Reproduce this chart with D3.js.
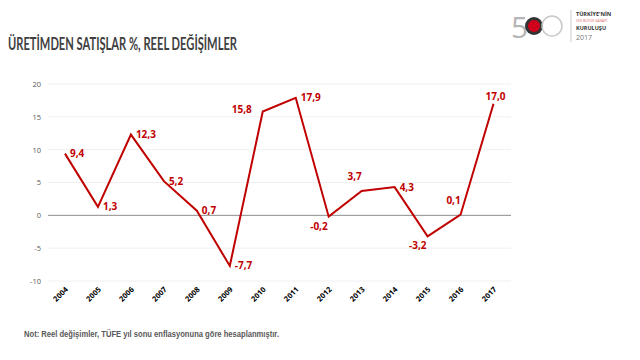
<!DOCTYPE html>
<html><head><meta charset="utf-8">
<script src="https://cdn.jsdelivr.net/npm/d3@7"></script>
<style>body{margin:0;background:#fff}svg{display:block}</style>
</head><body>
<script>
const years = ["2004","2005","2006","2007","2008","2009","2010","2011","2012","2013","2014","2015","2016","2017"];
const values = [9.4,1.3,12.3,5.2,0.7,-7.7,15.8,17.9,-0.2,3.7,4.3,-3.2,0.1,17.0];
const yTicks = [-10,-5,0,5,10,15,20];
const title = "ÜRETİMDEN SATIŞLAR %, REEL DEĞİŞİMLER";
const note = "Not: Reel değişimler, TÜFE yıl sonu enflasyonuna göre hesaplanmıştır.";

// label placement per year (presentation only)
const place = {"2004":"r","2005":"r","2006":"r","2007":"r","2008":"r","2009":"r","2010":"l","2011":"r","2012":"bl","2013":"al","2014":"r","2015":"bl","2016":"al","2017":"a"};

const W=640,H=360;
const svg=d3.select("body").append("svg").attr("width",W).attr("height",H);
const red="#c00000";

const x=d3.scalePoint().domain(years).range([48.5,510]).padding(0.5);
const y=d3.scaleLinear().domain([-10,20]).range([281,84]);

// gridlines
svg.append("g").selectAll("line").data(yTicks.filter(d=>d!==0)).join("line")
 .attr("x1",48).attr("x2",511).attr("y1",d=>y(d)).attr("y2",d=>y(d))
 .attr("stroke","#f0f0f0").attr("stroke-width",1);

// y axis
const ya=svg.append("g").attr("transform","translate(48,0)")
 .call(d3.axisLeft(y).tickValues(yTicks).tickSize(0).tickPadding(7).tickFormat(d=>d));
ya.select(".domain").remove();
ya.selectAll("text").attr("font-family","Open Sans, sans-serif").attr("font-size",7.5).attr("fill","#595959");

// zero line
svg.append("line").attr("x1",48).attr("x2",511).attr("y1",y(0)).attr("y2",y(0))
 .attr("stroke","#8c8c8c").attr("stroke-width",1);

// x axis labels
const xa=svg.append("g").attr("transform",`translate(0,${y(-10)})`)
 .call(d3.axisBottom(x).tickSize(0).tickFormat(d=>d));
xa.select(".domain").remove();
xa.selectAll("text").attr("font-family","Open Sans, sans-serif").attr("font-size",7.5).attr("font-weight","bold").attr("fill","#000")
 .attr("text-anchor","end").attr("dy",0).attr("y",0)
 .attr("transform","translate(3,9) rotate(-45)");

// line
svg.append("path").datum(values)
 .attr("d",d3.line().x((d,i)=>x(years[i])).y(d=>y(d)))
 .attr("fill","none").attr("stroke",red).attr("stroke-width",2).attr("stroke-linejoin","miter");

// data labels
const fmt=v=>v.toFixed(1).replace(".",",");
svg.append("g").selectAll("text").data(values).join("text")
 .attr("font-family","Open Sans, sans-serif").attr("font-size",10).attr("font-weight","bold").attr("fill",red)
 .each(function(d,i){
   const px=x(years[i]),py=y(d),p=place[years[i]];
   let tx=px,ty=py,anc="start";
   if(p==="r"){tx=px+5;ty=py+3.5;}
   else if(p==="l"){tx=px-11;ty=py+1;anc="end";}
   else if(p==="bl"){tx=px-1;ty=py+13;anc="end";}
   else if(p==="al"){tx=px-7;ty=py-11;anc="middle";}
   else if(p==="a"){tx=px+2;ty=py-4;anc="middle";}
   d3.select(this).attr("x",tx).attr("y",ty).attr("text-anchor",anc).text(fmt(d));
 });

// title
svg.append("text").attr("x",8).attr("y",50).text(title)
 .attr("font-family","Lato, sans-serif").attr("font-size",16.5).attr("font-weight","bold").attr("fill","#3f3f3f")
 .attr("textLength",229).attr("lengthAdjust","spacingAndGlyphs");

// note
svg.append("text").attr("x",24).attr("y",337).text(note)
 .attr("font-family","Liberation Sans, Arial, sans-serif").attr("font-size",9).attr("font-weight","bold").attr("fill","#595959")
 .attr("textLength",255).attr("lengthAdjust","spacingAndGlyphs");

// logo
const lg=svg.append("g");
lg.append("text").attr("x",511).attr("y",38).text("5").attr("font-family","Open Sans, sans-serif").attr("font-size",30).attr("fill","#b5b5b5");
lg.append("circle").attr("cx",534).attr("cy",26).attr("r",9).attr("fill","#333");
lg.append("circle").attr("cx",534).attr("cy",26).attr("r",6).attr("fill","#d0021b");
lg.append("circle").attr("cx",552).attr("cy",26).attr("r",10).attr("fill","none").attr("stroke","#c8c8c8").attr("stroke-width",1.5);
lg.append("line").attr("x1",571).attr("x2",571).attr("y1",10).attr("y2",42).attr("stroke","#ccc");
lg.append("text").attr("x",576).attr("y",16).text("TÜRKİYE'NİN").attr("font-family","Open Sans, sans-serif").attr("font-size",5.5).attr("font-weight","bold").attr("fill","#333");
lg.append("text").attr("x",576).attr("y",22).text("500 BÜYÜK SANAYİ").attr("font-family","Open Sans, sans-serif").attr("font-size",3.5).attr("fill","#d66");
lg.append("text").attr("x",576).attr("y",30).text("KURULUŞU").attr("font-family","Open Sans, sans-serif").attr("font-size",5.5).attr("font-weight","bold").attr("fill","#333");
lg.append("text").attr("x",576).attr("y",40).text("2017").attr("font-family","Open Sans, sans-serif").attr("font-size",7).attr("fill","#777");
</script>
</body></html>
